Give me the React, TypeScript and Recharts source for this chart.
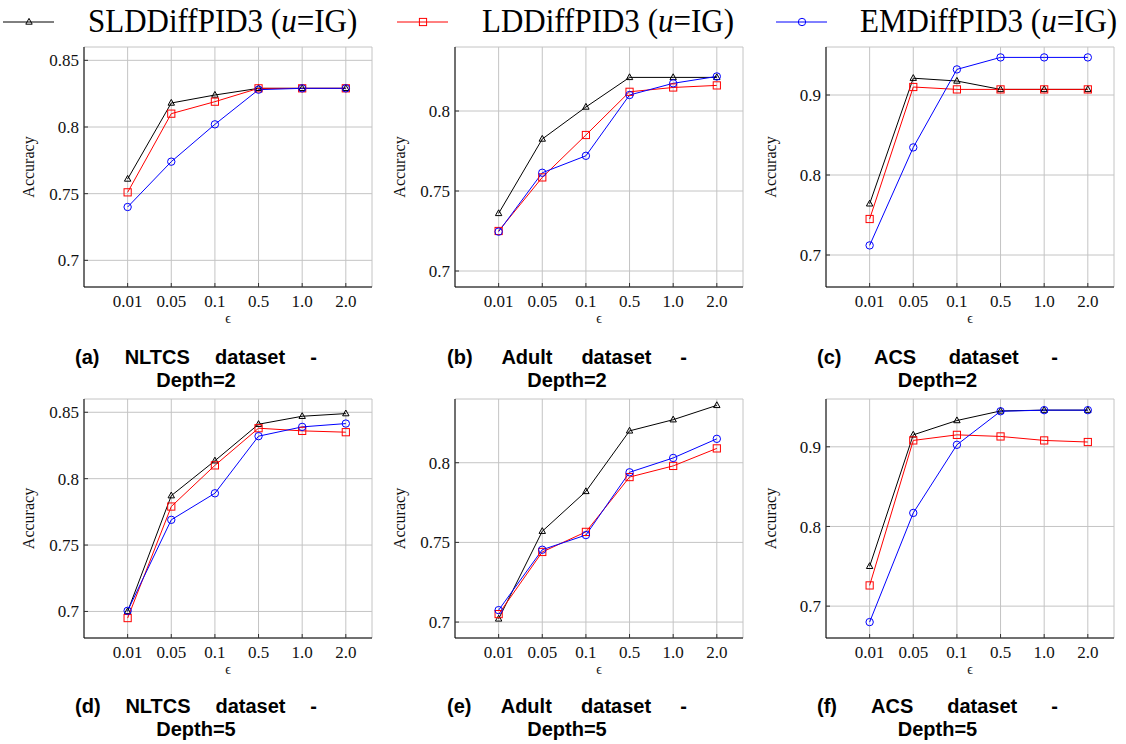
import React from "react";
import { CartesianGrid, Line, LineChart, XAxis, YAxis } from "recharts";

// shared x categories (privacy budget)
const epsilons = ["0.01", "0.05", "0.1", "0.5", "1.0", "2.0"];

// (a) NLTCS, Depth=2
const nltcsD2Sld = [0.761, 0.818, 0.824, 0.829, 0.829, 0.829];
const nltcsD2Ld = [0.751, 0.81, 0.819, 0.829, 0.829, 0.829];
const nltcsD2Em = [0.74, 0.774, 0.802, 0.828, 0.829, 0.829];

// (b) Adult, Depth=2
const adultD2Sld = [0.736, 0.7825, 0.8025, 0.821, 0.821, 0.821];
const adultD2Ld = [0.725, 0.7585, 0.785, 0.812, 0.8147, 0.816];
const adultD2Em = [0.7246, 0.7614, 0.772, 0.81, 0.8173, 0.8216];

// (c) ACS, Depth=2
const acsD2Sld = [0.764, 0.921, 0.9175, 0.907, 0.907, 0.907];
const acsD2Ld = [0.745, 0.91, 0.907, 0.907, 0.907, 0.907];
const acsD2Em = [0.712, 0.8345, 0.932, 0.947, 0.947, 0.947];

// (d) NLTCS, Depth=5
const nltcsD5Sld = [0.7, 0.7872, 0.8135, 0.841, 0.847, 0.849];
const nltcsD5Ld = [0.695, 0.779, 0.81, 0.838, 0.836, 0.835];
const nltcsD5Em = [0.7005, 0.769, 0.789, 0.832, 0.839, 0.8415];

// (e) Adult, Depth=5
const adultD5Sld = [0.702, 0.757, 0.782, 0.82, 0.827, 0.836];
const adultD5Ld = [0.705, 0.744, 0.7566, 0.791, 0.798, 0.809];
const adultD5Em = [0.7075, 0.7454, 0.7546, 0.794, 0.803, 0.815];

// (f) ACS, Depth=5
const acsD5Sld = [0.75, 0.915, 0.933, 0.945, 0.946, 0.946];
const acsD5Ld = [0.726, 0.908, 0.915, 0.913, 0.908, 0.906];
const acsD5Em = [0.68, 0.817, 0.9025, 0.9446, 0.946, 0.946];

const nltcsTicks = [0.7, 0.75, 0.8, 0.85];
const adultTicks = [0.7, 0.75, 0.8];
const acsTicks = [0.7, 0.8, 0.9];

const SERIF = "'Liberation Serif', 'Times New Roman', serif";
const SANS = "'Liberation Sans', Arial, sans-serif";
const GRID = "#c4c4c4";

const PLOT_W = 288;
const Y_AXIS_W = 84;
const X_AXIS_H = 45;

function TriangleDot(props: any) {
  const { cx, cy, index } = props;
  if (cx == null || cy == null) return <g key={`t-${index}`} />;
  return (
    <polygon
      key={`t-${index}`}
      points={`${cx},${cy - 3.6} ${cx - 3.2},${cy + 2.2} ${cx + 3.2},${cy + 2.2}`}
      fill="none"
      stroke="#000"
      strokeWidth={1}
    />
  );
}

function SquareDot(props: any) {
  const { cx, cy, index } = props;
  if (cx == null || cy == null) return <g key={`s-${index}`} />;
  return (
    <rect
      key={`s-${index}`}
      x={cx - 3.6}
      y={cy - 3.6}
      width={7.2}
      height={7.2}
      fill="none"
      stroke="#ff0000"
      strokeWidth={1}
    />
  );
}

function CircleDot(props: any) {
  const { cx, cy, index } = props;
  if (cx == null || cy == null) return <g key={`c-${index}`} />;
  return <circle key={`c-${index}`} cx={cx} cy={cy} r={3.7} fill="none" stroke="#0000ff" strokeWidth={1} />;
}

interface PanelProps {
  sld: number[];
  ld: number[];
  em: number[];
  yDomain: [number, number];
  yTicks: number[];
  plotLeft: number;
  plotTop: number;
  plotH: number;
}

function Panel({ sld, ld, em, yDomain, yTicks, plotLeft, plotTop, plotH }: PanelProps) {
  const data = epsilons.map((eps, i) => ({ x: i, eps, sld: sld[i], ld: ld[i], em: em[i] }));
  const xTicks = epsilons.map((_, i) => i);
  const width = Y_AXIS_W + PLOT_W + 5;
  const height = 5 + plotH + X_AXIS_H + 5;

  return (
    <div style={{ position: "absolute", left: plotLeft - Y_AXIS_W, top: plotTop - 5 }}>
      <LineChart width={width} height={height} data={data} margin={{ top: 5, right: 5, bottom: 5, left: 0 }}>
        <CartesianGrid stroke={GRID} strokeWidth={1} />
        <XAxis
          dataKey="x"
          type="number"
          domain={[-1, 5.6]}
          ticks={xTicks}
          allowDataOverflow
          height={X_AXIS_H}
          tickFormatter={(v) => epsilons[v] ?? ""}
          tick={{ fill: "#111", fontFamily: SERIF, fontSize: 17 }}
          tickSize={-4}
          tickMargin={12}
          axisLine={{ stroke: "#000" }}
          tickLine={{ stroke: "#333" }}
          label={{ value: "\u03f5", position: "insideBottom", offset: 9, fill: "#111", fontFamily: SERIF, fontSize: 14 }}
        />
        <XAxis
          xAxisId="top"
          orientation="top"
          type="number"
          domain={[-1, 5.6]}
          ticks={xTicks}
          allowDataOverflow
          height={0}
          tickFormatter={() => ""}
          tickSize={-4}
          axisLine={{ stroke: "#000" }}
          tickLine={{ stroke: "#333" }}
        />
        <YAxis
          type="number"
          domain={yDomain}
          ticks={yTicks}
          allowDataOverflow
          width={Y_AXIS_W}
          tickFormatter={(v) => String(v)}
          tick={{ fill: "#111", fontFamily: SERIF, fontSize: 17 }}
          tickSize={-4}
          tickMargin={9}
          axisLine={{ stroke: "#000" }}
          tickLine={{ stroke: "#333" }}
          label={{
            content: ({ viewBox }: any) => {
              const cx = viewBox.x + 28;
              const cy = viewBox.y + viewBox.height / 2;
              return (
                <text
                  x={cx}
                  y={cy}
                  transform={`rotate(-90 ${cx} ${cy})`}
                  textAnchor="middle"
                  dominantBaseline="central"
                  fill="#111"
                  fontFamily={SERIF}
                  fontSize={16}
                >
                  Accuracy
                </text>
              );
            },
          }}
        />
        <YAxis
          yAxisId="right"
          orientation="right"
          type="number"
          domain={yDomain}
          ticks={yTicks}
          allowDataOverflow
          width={0}
          tickFormatter={() => ""}
          tickSize={-4}
          axisLine={{ stroke: "#000" }}
          tickLine={{ stroke: "#333" }}
        />
        <Line dataKey="sld" stroke="#000" strokeWidth={1} dot={TriangleDot} isAnimationActive={false} />
        <Line dataKey="ld" stroke="#ff0000" strokeWidth={1} dot={SquareDot} isAnimationActive={false} />
        <Line dataKey="em" stroke="#0000ff" strokeWidth={1} dot={CircleDot} isAnimationActive={false} />
      </LineChart>
    </div>
  );
}

function Caption({ words, depth, left, right, top }: { words: string[]; depth: string; left: number; right: number; top: number }) {
  return (
    <div
      style={{
        position: "absolute",
        left,
        top,
        width: right - left,
        fontFamily: SANS,
        fontWeight: "bold",
        fontSize: 20,
        lineHeight: "22.5px",
        color: "#000",
      }}
    >
      <div style={{ display: "flex", justifyContent: "space-between" }}>
        {words.map((w) => (
          <span key={w}>{w}</span>
        ))}
      </div>
      <div style={{ textAlign: "center" }}>{depth}</div>
    </div>
  );
}

function LegendItem({ left, textLeft, label, marker }: { left: number; textLeft: number; label: string; marker: string }) {
  const color = marker === "tri" ? "#000" : marker === "sq" ? "#ff0000" : "#0000ff";
  return (
    <>
      <svg style={{ position: "absolute", left, top: 12 }} width={52} height={20}>
        <line x1={0} y1={10} x2={51} y2={10} stroke={color} strokeWidth={1} />
        {marker === "tri" && <polygon points="26,6.4 22.8,12.2 29.2,12.2" fill="none" stroke={color} />}
        {marker === "sq" && <rect x={22.4} y={6.4} width={7.2} height={7.2} fill="none" stroke={color} />}
        {marker === "ci" && <circle cx={26} cy={10} r={3.7} fill="none" stroke={color} />}
      </svg>
      <div
        style={{
          position: "absolute",
          left: textLeft,
          top: 0,
          fontFamily: SERIF,
          fontSize: 31,
          lineHeight: "42px",
          color: "#000",
          whiteSpace: "nowrap",
          transform: "scaleY(1.12)",
          transformOrigin: "left center",
        }}
      >
        {label} (<i>u</i>=IG)
      </div>
    </>
  );
}

export default function App() {
  return (
    <div style={{ position: "absolute", left: 0, top: 0, width: 1126, height: 744, background: "#fff", overflow: "hidden" }}>
      <LegendItem left={3} textLeft={88} label="SLDDiffPID3" marker="tri" />
      <LegendItem left={397} textLeft={482} label="LDDiffPID3" marker="sq" />
      <LegendItem left={776} textLeft={860} label="EMDiffPID3" marker="ci" />

      <Panel sld={nltcsD2Sld} ld={nltcsD2Ld} em={nltcsD2Em} yDomain={[0.68, 0.86]} yTicks={nltcsTicks} plotLeft={84} plotTop={47} plotH={240} />
      <Panel sld={adultD2Sld} ld={adultD2Ld} em={adultD2Em} yDomain={[0.69, 0.84]} yTicks={adultTicks} plotLeft={455} plotTop={47} plotH={240} />
      <Panel sld={acsD2Sld} ld={acsD2Ld} em={acsD2Em} yDomain={[0.66, 0.96]} yTicks={acsTicks} plotLeft={826} plotTop={47} plotH={240} />
      <Panel sld={nltcsD5Sld} ld={nltcsD5Ld} em={nltcsD5Em} yDomain={[0.68, 0.86]} yTicks={nltcsTicks} plotLeft={84} plotTop={399} plotH={239} />
      <Panel sld={adultD5Sld} ld={adultD5Ld} em={adultD5Em} yDomain={[0.69, 0.84]} yTicks={adultTicks} plotLeft={455} plotTop={399} plotH={239} />
      <Panel sld={acsD5Sld} ld={acsD5Ld} em={acsD5Em} yDomain={[0.66, 0.96]} yTicks={acsTicks} plotLeft={826} plotTop={399} plotH={239} />

      <Caption words={["(a)", "NLTCS", "dataset", "-"]} depth="Depth=2" left={75} right={317} top={346} />
      <Caption words={["(b)", "Adult", "dataset", "-"]} depth="Depth=2" left={447} right={687} top={346} />
      <Caption words={["(c)", "ACS", "dataset", "-"]} depth="Depth=2" left={817} right={1058} top={346} />
      <Caption words={["(d)", "NLTCS", "dataset", "-"]} depth="Depth=5" left={75} right={317} top={695} />
      <Caption words={["(e)", "Adult", "dataset", "-"]} depth="Depth=5" left={447} right={687} top={695} />
      <Caption words={["(f)", "ACS", "dataset", "-"]} depth="Depth=5" left={817} right={1058} top={695} />
    </div>
  );
}
